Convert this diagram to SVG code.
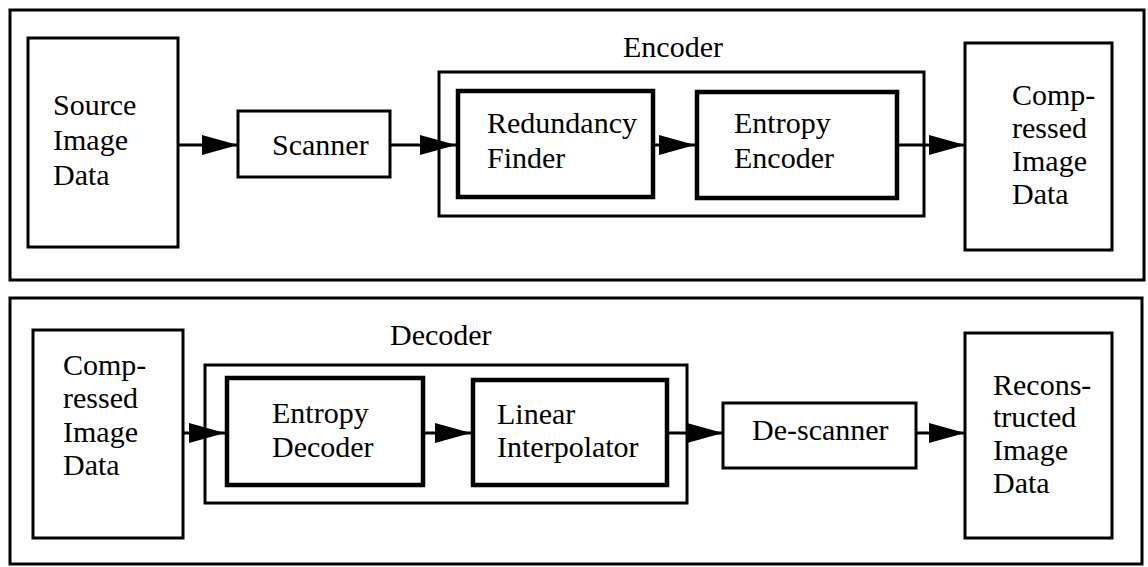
<svg xmlns="http://www.w3.org/2000/svg" width="1148" height="567" viewBox="0 0 1148 567">
<defs>
  <marker id="arrow" markerUnits="userSpaceOnUse" markerWidth="36" markerHeight="22" refX="36" refY="11" orient="auto">
    <path d="M0,1 L36,11 L0,21 z" fill="#000"/>
  </marker>
</defs>
<rect width="1148" height="567" fill="#fff"/>

<g id="encoder-panel" fill="none" stroke="#000" stroke-width="3">
  <rect x="10" y="10" width="1134" height="270"/>
</g>
<g id="decoder-panel" fill="none" stroke="#000" stroke-width="3">
  <rect x="10" y="298" width="1132" height="266"/>
</g>

<g id="encoder" font-size="30" fill="#000">
  <rect x="439" y="72" width="485" height="144" fill="none" stroke="#000" stroke-width="3"/>
  <text x="623" y="57" font-family="Liberation Serif">Encoder</text>
</g>
<g id="decoder" font-size="30" fill="#000">
  <rect x="205" y="365" width="482" height="138" fill="none" stroke="#000" stroke-width="3"/>
  <text x="390" y="345" font-family="Liberation Serif">Decoder</text>
</g>

<g id="source" font-size="30" fill="#000">
  <rect x="28" y="38" width="150" height="209" fill="#fff" stroke="#000" stroke-width="3"/>
  <text x="53" y="115" font-family="Liberation Serif">Source</text>
  <text x="53" y="150" font-family="Liberation Serif">Image</text>
  <text x="53" y="185" font-family="Liberation Serif">Data</text>
</g>
<g id="scanner" font-size="30" fill="#000">
  <rect x="238" y="111" width="152" height="66" fill="#fff" stroke="#000" stroke-width="3"/>
  <text x="272" y="155" font-family="Liberation Serif">Scanner</text>
</g>
<g id="redundancy-finder" font-size="30" fill="#000">
  <rect x="458" y="91" width="195" height="106" fill="#fff" stroke="#000" stroke-width="4.5"/>
  <text x="487" y="133" font-family="Liberation Serif">Redundancy</text>
  <text x="487" y="168" font-family="Liberation Serif">Finder</text>
</g>
<g id="entropy-encoder" font-size="30" fill="#000">
  <rect x="697" y="92" width="200" height="106" fill="#fff" stroke="#000" stroke-width="4.5"/>
  <text x="734" y="133" font-family="Liberation Serif">Entropy</text>
  <text x="734" y="168" font-family="Liberation Serif">Encoder</text>
</g>
<g id="compressed-out" font-size="30" fill="#000">
  <rect x="965" y="43" width="147" height="207" fill="#fff" stroke="#000" stroke-width="3"/>
  <text x="1012" y="105" font-family="Liberation Serif">Comp-</text>
  <text x="1012" y="138" font-family="Liberation Serif">ressed</text>
  <text x="1012" y="171" font-family="Liberation Serif">Image</text>
  <text x="1012" y="204" font-family="Liberation Serif">Data</text>
</g>

<g id="compressed-in" font-size="30" fill="#000">
  <rect x="33" y="330" width="150" height="208" fill="#fff" stroke="#000" stroke-width="3"/>
  <text x="63" y="375" font-family="Liberation Serif">Comp-</text>
  <text x="63" y="408" font-family="Liberation Serif">ressed</text>
  <text x="63" y="442" font-family="Liberation Serif">Image</text>
  <text x="63" y="475" font-family="Liberation Serif">Data</text>
</g>
<g id="entropy-decoder" font-size="30" fill="#000">
  <rect x="227" y="378" width="196" height="107" fill="#fff" stroke="#000" stroke-width="4.5"/>
  <text x="272" y="423" font-family="Liberation Serif">Entropy</text>
  <text x="272" y="457" font-family="Liberation Serif">Decoder</text>
</g>
<g id="linear-interpolator" font-size="30" fill="#000">
  <rect x="473" y="380" width="194" height="105" fill="#fff" stroke="#000" stroke-width="4.5"/>
  <text x="497" y="424" font-family="Liberation Serif">Linear</text>
  <text x="497" y="457" font-family="Liberation Serif">Interpolator</text>
</g>
<g id="descanner" font-size="30" fill="#000">
  <rect x="723" y="403" width="193" height="65" fill="#fff" stroke="#000" stroke-width="3"/>
  <text x="752" y="440" font-family="Liberation Serif">De-scanner</text>
</g>
<g id="reconstructed" font-size="30" fill="#000">
  <rect x="965" y="333" width="147" height="205" fill="#fff" stroke="#000" stroke-width="3"/>
  <text x="993" y="395" font-family="Liberation Serif">Recons-</text>
  <text x="993" y="427" font-family="Liberation Serif">tructed</text>
  <text x="993" y="460" font-family="Liberation Serif">Image</text>
  <text x="993" y="493" font-family="Liberation Serif">Data</text>
</g>

<g id="connectors" stroke="#000" stroke-width="3" fill="none" marker-end="url(#arrow)">
  <line x1="178" y1="145" x2="238" y2="145"/>
  <line x1="390" y1="145" x2="456" y2="145"/>
  <line x1="655" y1="145" x2="695" y2="145"/>
  <line x1="899" y1="145" x2="965" y2="145"/>
  <line x1="183" y1="433" x2="225" y2="433"/>
  <line x1="425" y1="433" x2="471" y2="433"/>
  <line x1="669" y1="433" x2="723" y2="433"/>
  <line x1="916" y1="433" x2="965" y2="433"/>
</g>
</svg>
